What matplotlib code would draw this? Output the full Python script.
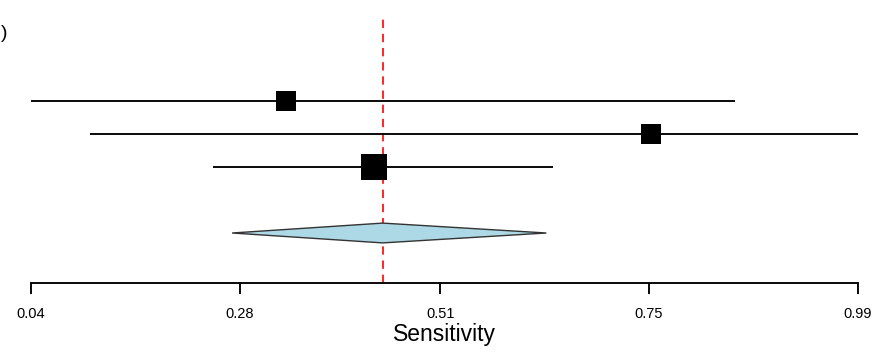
import matplotlib
matplotlib.use("Agg")
import matplotlib.pyplot as plt

# ---- data ----
study_est = [0.333, 0.752, 0.434]
study_lo = [0.040, 0.108, 0.249]
study_hi = [0.849, 0.990, 0.640]
study_size_px = [19.5, 19.5, 27.0]   # square sizes (weights)
study_rows = [3, 2, 1]

summary_est = 0.444
summary_lo = 0.271
summary_hi = 0.632
summary_row = -1

tick_vals = [0.04, 0.28, 0.51, 0.75, 0.99]
tick_labels = ["0.04", "0.28", "0.51", "0.75", "0.99"]
xlabel = "Sensitivity"

plt.rcParams['font.family'] = ['Liberation Sans', 'DejaVu Sans']

W, H = 888, 352
fig = plt.figure(figsize=(W / 100, H / 100), dpi=100)
ax = fig.add_axes([31 / W, (H - 283) / H, 827 / W, 283 / H])
ax.set_xlim(0.04, 0.99)
ax.set_ylim(-2.515, 6.06)

# reference line
ax.vlines(summary_est, -2.515, 5.57, colors="#ff0000", linestyles=(0, (5, 3.5)),
          linewidth=1.2, zorder=1)

# study CIs and squares
for r, e, lo, hi, s in zip(study_rows, study_est, study_lo, study_hi, study_size_px):
    ax.plot([lo, hi], [r, r], color="black", lw=1.35, solid_capstyle="butt", zorder=2)
    ax.plot([e], [r], marker="s", color="black", markersize=s * 0.72,
            markeredgewidth=0, zorder=3)

# summary diamond
hh = 0.3
ax.fill([summary_lo, summary_est, summary_hi, summary_est],
        [summary_row, summary_row + hh, summary_row, summary_row - hh],
        facecolor="#add8e6", edgecolor="#333333", linewidth=1.0, zorder=2)

for sp in ["top", "left", "right"]:
    ax.spines[sp].set_visible(False)
ax.spines["bottom"].set_bounds(0.04, 0.99)
ax.spines["bottom"].set_linewidth(1.35)
ax.set_yticks([])
ax.set_xticks(tick_vals)
ax.set_xticklabels(tick_labels, fontsize=10.5)
ax.tick_params(axis="x", length=7.8, width=1.35, pad=9.5)
ax.set_xlabel(xlabel, fontsize=16.5, labelpad=1.5)

fig.text(7 / W, 1 - 33 / H, ")", ha="right", va="center", fontsize=14)

fig.savefig("out.png", dpi=100)
